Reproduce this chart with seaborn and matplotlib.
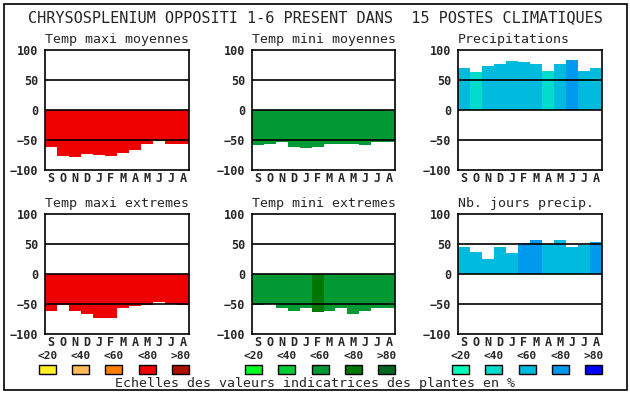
import matplotlib
matplotlib.use("Agg")
import matplotlib.pyplot as plt
from matplotlib.patches import Rectangle
import seaborn as sns
import pandas as pd

# --- data -----------------------------------------------------------------
months = ["S", "O", "N", "D", "J", "F", "M", "A", "M", "J", "J", "A"]
scale_labels = ["<20", "<40", "<60", "<80", ">80"]

red_scale = ["#ffee22", "#ffbb55", "#ff8000", "#ee0000", "#aa1100"]
green_scale = ["#00ff22", "#00cc33", "#009933", "#007700", "#006622"]
blue_scale = ["#00ffbb", "#00ddcc", "#00bbdd", "#0099ee", "#0000ff"]

tmax_moy = [-61, -76, -78, -73, -75, -76, -72, -67, -57, -51, -57, -57]
tmax_moy_cls = [3, 3, 3, 3, 3, 3, 3, 3, 3, 3, 3, 3]

tmin_moy = [-58, -56, -54, -61, -63, -61, -56, -56, -56, -58, -54, -54]
tmin_moy_cls = [2, 2, 2, 2, 2, 2, 2, 2, 2, 2, 2, 2]

precip = [70, 63, 73, 77, 82, 80, 77, 65, 77, 83, 65, 70]
precip_cls = [2, 1, 2, 2, 2, 2, 2, 1, 2, 3, 2, 2]

tmax_ext = [-61, -52, -61, -66, -73, -73, -56, -54, -52, -47, -50, -52]
tmax_ext_cls = [3, 3, 3, 3, 3, 3, 3, 3, 3, 3, 3, 3]

tmin_ext = [-52, -50, -57, -61, -57, -64, -61, -57, -66, -61, -57, -57]
tmin_ext_cls = [2, 2, 2, 2, 2, 3, 2, 2, 2, 2, 2, 2]

jours_precip = [45, 37, 25, 45, 35, 52, 57, 50, 57, 45, 49, 53]
jours_precip_cls = [2, 2, 2, 2, 2, 3, 3, 2, 2, 2, 2, 3]

title = "CHRYSOSPLENIUM OPPOSITI 1-6 PRESENT DANS  15 POSTES CLIMATIQUES"
footer = "Echelles des valeurs indicatrices des plantes en %"

# --- layout (pixels) ------------------------------------------------------
W, H = 630, 394
col_x = [(45, 189), (252, 395), (458, 602)]
row_y = [(50, 170), (214, 334)]

panels = [
    ("Temp maxi moyennes", tmax_moy, tmax_moy_cls, red_scale, 0, 0),
    ("Temp mini moyennes", tmin_moy, tmin_moy_cls, green_scale, 0, 1),
    ("Precipitations", precip, precip_cls, blue_scale, 0, 2),
    ("Temp maxi extremes", tmax_ext, tmax_ext_cls, red_scale, 1, 0),
    ("Temp mini extremes", tmin_ext, tmin_ext_cls, green_scale, 1, 1),
    ("Nb. jours precip.", jours_precip, jours_precip_cls, blue_scale, 1, 2),
]

sns.set_style("white")
plt.rcParams["font.family"] = ["DejaVu Sans Mono", "DejaVu Sans"]

fig = plt.figure(figsize=(W / 100, H / 100), dpi=100)


def fx(x):
    return x / W


def fy(y):
    return 1 - y / H


for name, vals, cls, scale, r, c in panels:
    x0, x1 = col_x[c]
    y0, y1 = row_y[r]
    ax = fig.add_axes([fx(x0), fy(y1), (x1 - x0) / W, (y1 - y0) / H])
    df = pd.DataFrame({"pos": range(len(months)), "val": vals, "cls": cls})
    sns.barplot(
        data=df, x="pos", y="val", hue="cls",
        palette={i: col for i, col in enumerate(scale)},
        dodge=False, width=1.0, saturation=1, linewidth=0,
        legend=False, ax=ax,
    )
    ax.set_xlim(-0.5, len(months) - 0.5)
    ax.set_ylim(-100, 100)
    ax.set_yticks([100, 50, 0, -50, -100])
    ax.set_xticks(range(len(months)))
    ax.set_xticklabels(months)
    ax.set_xlabel("")
    ax.set_ylabel("")
    ax.tick_params(axis="y", length=0, pad=5, labelsize=8.5)
    ax.tick_params(axis="x", length=0, pad=1.5, labelsize=8.5)
    for lab in ax.get_xticklabels() + ax.get_yticklabels():
        lab.set_fontweight("bold")
    for v in (50, 0, -50):
        ax.axhline(v, color="black", lw=1.2, zorder=5)
    for sp in ax.spines.values():
        sp.set_visible(True)
        sp.set_color("black")
        sp.set_linewidth(1.2)
        sp.set_zorder(6)
    ax.text(0, 1.03, name, transform=ax.transAxes, ha="left", va="bottom",
            fontsize=9.5)

# legend scales under each column
box_w, box_h, step = 17, 9, 33.25
for (x0, x1), scale in zip(col_x, [red_scale, green_scale, blue_scale]):
    left = x1 - (4 * step + box_w)
    for k, (lab, col) in enumerate(zip(scale_labels, scale)):
        bx = left + k * step
        fig.patches.append(Rectangle(
            (fx(bx), fy(374)), box_w / W, box_h / H,
            transform=fig.transFigure, facecolor=col, edgecolor="black", lw=1))
        fig.text(fx(bx + box_w / 2), fy(356), lab, ha="center", va="center",
                 fontsize=8, fontweight="bold")

fig.text(fx(315), fy(18), title, ha="center", va="center", fontsize=11)
fig.text(fx(315), fy(383), footer, ha="center", va="center", fontsize=9.5)

fig.patches.append(Rectangle((fx(4), fy(390)), 623 / W, 386 / H,
                             transform=fig.transFigure, fill=False,
                             edgecolor="black", lw=1.2))

fig.savefig("out.png", dpi=100)
